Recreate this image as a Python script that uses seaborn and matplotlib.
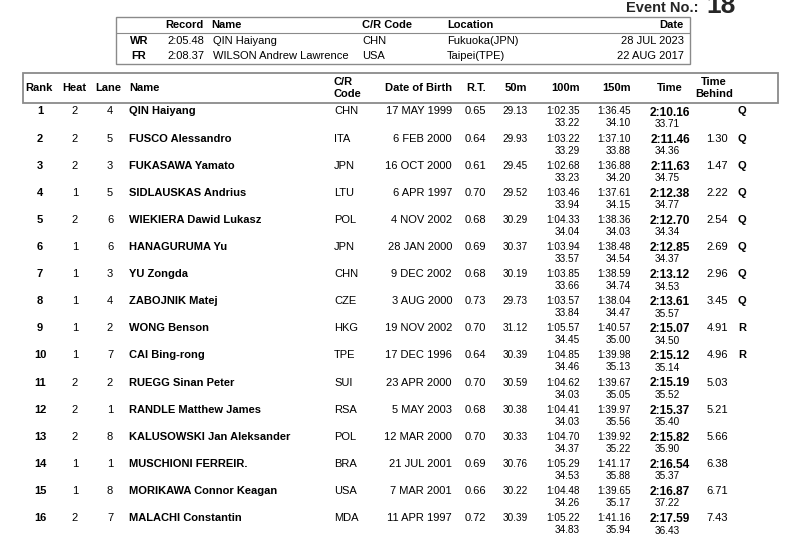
import matplotlib
matplotlib.use("Agg")
import matplotlib.pyplot as plt
import seaborn as sns
import pandas as pd
from matplotlib.patches import Rectangle

# ---------------- data ----------------
event_no = "18"
record_types = ["WR", "FR"]
record_times = ["2:05.48", "2:08.37"]
record_names = ["QIN Haiyang", "WILSON Andrew Lawrence"]
record_codes = ["CHN", "USA"]
record_locations = ["Fukuoka(JPN)", "Taipei(TPE)"]
record_dates = ["28 JUL 2023", "22 AUG 2017"]

ranks = list(range(1, 17))
heats = [2, 2, 2, 1, 2, 1, 1, 1, 1, 1, 2, 2, 2, 1, 1, 2]
lanes = [4, 5, 3, 5, 6, 6, 3, 4, 2, 7, 2, 1, 8, 1, 8, 7]
names = ["QIN Haiyang", "FUSCO Alessandro", "FUKASAWA Yamato", "SIDLAUSKAS Andrius",
         "WIEKIERA Dawid Lukasz", "HANAGURUMA Yu", "YU Zongda", "ZABOJNIK Matej",
         "WONG Benson", "CAI Bing-rong", "RUEGG Sinan Peter", "RANDLE Matthew James",
         "KALUSOWSKI Jan Aleksander", "MUSCHIONI FERREIR.", "MORIKAWA Connor Keagan",
         "MALACHI Constantin"]
codes = ["CHN", "ITA", "JPN", "LTU", "POL", "JPN", "CHN", "CZE",
         "HKG", "TPE", "SUI", "RSA", "POL", "BRA", "USA", "MDA"]
dobs = ["17 MAY 1999", "6 FEB 2000", "16 OCT 2000", "6 APR 1997", "4 NOV 2002",
        "28 JAN 2000", "9 DEC 2002", "3 AUG 2000", "19 NOV 2002", "17 DEC 1996",
        "23 APR 2000", "5 MAY 2003", "12 MAR 2000", "21 JUL 2001", "7 MAR 2001",
        "11 APR 1997"]
reaction = ["0.65", "0.64", "0.61", "0.70", "0.68", "0.69", "0.68", "0.73",
            "0.70", "0.64", "0.70", "0.68", "0.70", "0.69", "0.66", "0.72"]
split50 = ["29.13", "29.93", "29.45", "29.52", "30.29", "30.37", "30.19", "29.73",
           "31.12", "30.39", "30.59", "30.38", "30.33", "30.76", "30.22", "30.39"]
cum100 = ["1:02.35", "1:03.22", "1:02.68", "1:03.46", "1:04.33", "1:03.94", "1:03.85", "1:03.57",
          "1:05.57", "1:04.85", "1:04.62", "1:04.41", "1:04.70", "1:05.29", "1:04.48", "1:05.22"]
lap100 = ["33.22", "33.29", "33.23", "33.94", "34.04", "33.57", "33.66", "33.84",
          "34.45", "34.46", "34.03", "34.03", "34.37", "34.53", "34.26", "34.83"]
cum150 = ["1:36.45", "1:37.10", "1:36.88", "1:37.61", "1:38.36", "1:38.48", "1:38.59", "1:38.04",
          "1:40.57", "1:39.98", "1:39.67", "1:39.97", "1:39.92", "1:41.17", "1:39.65", "1:41.16"]
lap150 = ["34.10", "33.88", "34.20", "34.15", "34.03", "34.54", "34.74", "34.47",
          "35.00", "35.13", "35.05", "35.56", "35.22", "35.88", "35.17", "35.94"]
final_time = ["2:10.16", "2:11.46", "2:11.63", "2:12.38", "2:12.70", "2:12.85", "2:13.12", "2:13.61",
              "2:15.07", "2:15.12", "2:15.19", "2:15.37", "2:15.82", "2:16.54", "2:16.87", "2:17.59"]
lap200 = ["33.71", "34.36", "34.75", "34.77", "34.34", "34.37", "34.53", "35.57",
          "34.50", "35.14", "35.52", "35.40", "35.90", "35.37", "37.22", "36.43"]
behind = ["", "1.30", "1.47", "2.22", "2.54", "2.69", "2.96", "3.45",
          "4.91", "4.96", "5.03", "5.21", "5.66", "6.38", "6.71", "7.43"]
qualifier = ["Q", "Q", "Q", "Q", "Q", "Q", "Q", "Q", "R", "R", "", "", "", "", "", ""]

df = pd.DataFrame(dict(rank=ranks, heat=heats, lane=lanes, name=names, code=codes,
                       dob=dobs, rt=reaction, s50=split50, c100=cum100, l100=lap100,
                       c150=cum150, l150=lap150, time=final_time, l200=lap200,
                       behind=behind, q=qualifier))

# ---------------- style ----------------
sns.set_theme(style="white")
plt.rcParams["font.family"] = ["Liberation Sans", "DejaVu Sans"]

W, H = 793, 556
fig = plt.figure(figsize=(W / 100, H / 100), dpi=100)
ax = fig.add_axes([0, 0, 1, 1])
ax.set_xlim(0, W)
ax.set_ylim(H, 0)
ax.axis("off")

FS = 8.0
FS_SPLIT = 7.2
BORDER = "#8a8a8a"

def txt(x, y, s, ha="left", bold=False, size=FS):
    ax.text(x, y, s, ha=ha, va="center", fontsize=size,
            fontweight="bold" if bold else "normal", color="black")

# Event number (partly cut at the top edge, as in the source page)
ax.text(699, 8, "Event No.:", ha="right", va="center", fontsize=10.5, fontweight="bold")
ax.text(706, 13, event_no, ha="left", va="baseline", fontsize=19, fontweight="bold")

# Records box
ax.add_patch(Rectangle((115.5, 17), 574, 46.5, fill=False, edgecolor=BORDER, lw=1.0))
ax.plot([115.5, 689.5], [32.5, 32.5], color=BORDER, lw=0.8)
rec_y0, rec_dy = 25, 15.5
txt(204, rec_y0, "Record", ha="right", bold=True)
txt(211, rec_y0, "Name", bold=True)
txt(362, rec_y0, "C/R Code", bold=True)
txt(447, rec_y0, "Location", bold=True)
txt(684, rec_y0, "Date", ha="right", bold=True)
for i in range(len(record_types)):
    y = rec_y0 + rec_dy * (i + 1)
    txt(139, y, record_types[i], ha="center", bold=True)
    txt(204, y, record_times[i], ha="right")
    txt(213, y, record_names[i])
    txt(362, y, record_codes[i])
    txt(447, y, record_locations[i])
    txt(684, y, record_dates[i], ha="right")

# Results header box
ax.add_patch(Rectangle((22.5, 73), 755, 30, fill=False, edgecolor=BORDER, lw=1.3))
hy = 88
txt(39, hy, "Rank", ha="center", bold=True)
txt(74, hy, "Heat", ha="center", bold=True)
txt(108, hy, "Lane", ha="center", bold=True)
txt(129, hy, "Name", bold=True)
txt(334, hy - 6, "C/R", bold=True)
txt(334, hy + 6, "Code", bold=True)
txt(452, hy, "Date of Birth", ha="right", bold=True)
txt(486, hy, "R.T.", ha="right", bold=True)
txt(527, hy, "50m", ha="right", bold=True)
txt(580, hy, "100m", ha="right", bold=True)
txt(631, hy, "150m", ha="right", bold=True)
txt(683, hy, "Time", ha="right", bold=True)
txt(714, hy - 6, "Time", ha="center", bold=True)
txt(714, hy + 6, "Behind", ha="center", bold=True)

# Result rows
row_y0, row_dy = 111.5, 27.1
for i, r in df.iterrows():
    y = row_y0 + i * row_dy
    txt(40, y, str(r["rank"]), ha="center", bold=True)
    txt(75, y, str(r["heat"]), ha="center")
    txt(110, y, str(r["lane"]), ha="center")
    txt(129, y, r["name"], bold=True)
    txt(334, y, r["code"])
    txt(452, y, r["dob"], ha="right")
    txt(486, y, r["rt"], ha="right")
    txt(528, y, r["s50"], ha="right", size=FS_SPLIT)
    txt(580, y, r["c100"], ha="right", size=FS_SPLIT)
    txt(580, y + 12, r["l100"], ha="right", size=FS_SPLIT)
    txt(631, y, r["c150"], ha="right", size=FS_SPLIT)
    txt(631, y + 12, r["l150"], ha="right", size=FS_SPLIT)
    txt(670, y + 1, r["time"], ha="center", bold=True, size=8.6)
    txt(667.5, y + 12.5, r["l200"], ha="center", size=FS_SPLIT)
    txt(728, y, r["behind"], ha="right")
    txt(738, y, r["q"], bold=True)

fig.savefig("out.png", dpi=100, facecolor="white")
